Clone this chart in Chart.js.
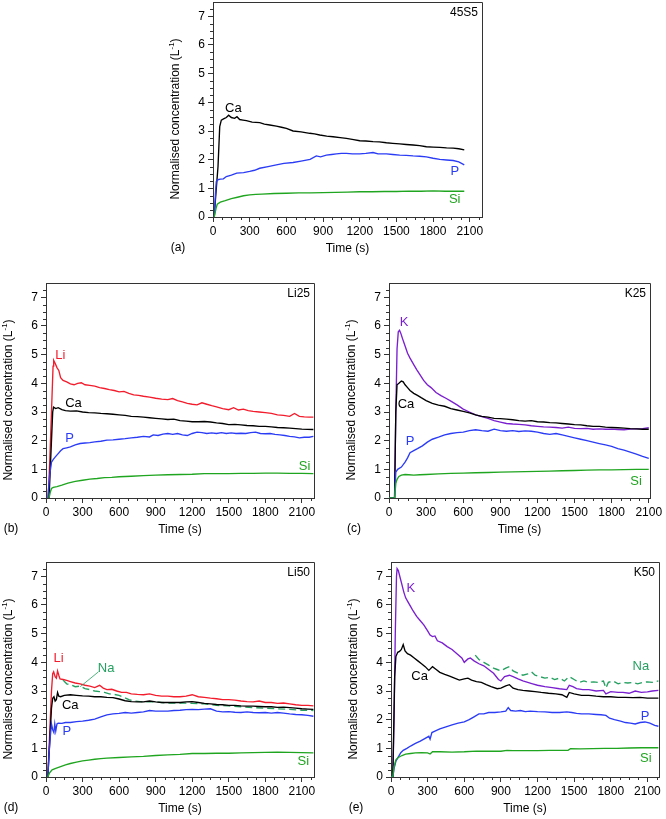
<!DOCTYPE html>
<html><head><meta charset="utf-8">
<script src="https://cdn.jsdelivr.net/npm/chart.js@4.4.1/dist/chart.umd.min.js"></script>
<style>
html,body{margin:0;padding:0;background:#fff;}
body{position:relative;width:666px;height:819px;overflow:hidden;}
canvas{position:absolute;}
</style>
</head><body>
<script>
// ---------- tick labels ----------
const timeTicks = [0,300,600,900,1200,1500,1800,2100];
const concTicks = [0,1,2,3,4,5,6,7];

// ---------- (a) 45S5 : [time (s), normalised concentration] ----------
const a_Ca = [[10,0],[20,0.6],[41,1.76],[55,3.15],[68,3.38],[90,3.43],[109,3.47],[128,3.55],[150,3.47],[177,3.44],[196,3.5],[218,3.4],[245,3.38],[273,3.36],[320,3.31],[382,3.29],[420,3.24],[464,3.21],[518,3.17],[560,3.13],[600,3.09],[655,3.0],[720,2.97],[791,2.92],[830,2.9],[873,2.86],[930,2.82],[982,2.8],[1040,2.77],[1091,2.74],[1150,2.7],[1200,2.66],[1250,2.65],[1309,2.63],[1360,2.62],[1418,2.59],[1470,2.57],[1527,2.55],[1580,2.53],[1636,2.51],[1690,2.49],[1745,2.45],[1800,2.44],[1855,2.43],[1910,2.41],[1964,2.4],[2010,2.38],[2055,2.34]];
const a_P = [[10,0],[20,0.8],[27,1.24],[40,1.3],[60,1.32],[85,1.33],[109,1.41],[150,1.46],[194,1.53],[250,1.55],[300,1.59],[340,1.63],[382,1.7],[450,1.76],[518,1.82],[580,1.87],[655,1.9],[720,1.95],[794,2.01],[845,2.13],[880,2.1],[927,2.16],[970,2.18],[1009,2.2],[1050,2.22],[1091,2.22],[1140,2.2],[1200,2.2],[1250,2.22],[1309,2.25],[1350,2.2],[1418,2.2],[1470,2.18],[1527,2.16],[1580,2.15],[1636,2.13],[1690,2.12],[1745,2.1],[1800,2.05],[1855,2.01],[1910,1.99],[1964,1.97],[2010,1.92],[2055,1.82]];
const a_Si = [[10,0],[25,0.3],[35,0.45],[60,0.52],[100,0.57],[150,0.64],[200,0.69],[250,0.74],[300,0.77],[350,0.79],[400,0.8],[500,0.82],[600,0.83],[700,0.84],[800,0.84],[900,0.85],[1000,0.86],[1100,0.87],[1200,0.88],[1300,0.88],[1400,0.89],[1500,0.89],[1600,0.9],[1700,0.9],[1800,0.91],[1900,0.9],[2000,0.9],[2055,0.9]];

// ---------- (b) Li25 ----------
const b_Li = [[18,0],[30,1.2],[45,3.0],[58,4.6],[63,4.8],[75,4.7],[90,4.55],[105,4.45],[120,4.2],[140,4.1],[170,4.05],[200,3.98],[230,3.95],[260,4.0],[290,4.02],[320,3.95],[360,3.93],[400,3.9],[440,3.85],[480,3.82],[520,3.78],[560,3.75],[600,3.7],[640,3.72],[680,3.65],[720,3.6],[760,3.58],[800,3.55],[850,3.52],[900,3.48],[950,3.45],[1000,3.43],[1040,3.47],[1080,3.4],[1120,3.35],[1160,3.3],[1200,3.27],[1240,3.25],[1280,3.32],[1320,3.27],[1360,3.22],[1400,3.18],[1450,3.12],[1500,3.08],[1540,3.15],[1580,3.07],[1620,3.1],[1660,3.05],[1700,3.02],[1750,3.0],[1800,2.98],[1850,2.95],[1900,2.9],[1950,2.88],[2000,2.85],[2040,2.95],[2080,2.85],[2120,2.83],[2160,2.82],[2195,2.82]];
const b_Ca = [[25,0],[40,1.5],[55,3.0],[62,3.17],[80,3.12],[100,3.15],[130,3.08],[160,3.05],[200,3.03],[250,3.04],[300,3.0],[350,2.98],[400,2.97],[450,2.95],[500,2.94],[550,2.92],[600,2.9],[650,2.88],[700,2.85],[750,2.84],[800,2.82],[850,2.8],[900,2.78],[950,2.76],[1000,2.74],[1050,2.75],[1100,2.7],[1150,2.68],[1200,2.66],[1250,2.66],[1300,2.67],[1350,2.65],[1400,2.62],[1450,2.6],[1500,2.56],[1550,2.57],[1600,2.55],[1650,2.53],[1700,2.52],[1750,2.5],[1800,2.5],[1850,2.48],[1900,2.46],[1950,2.45],[2000,2.44],[2050,2.42],[2100,2.4],[2195,2.39]];
const b_P = [[15,0],[30,0.8],[45,1.25],[60,1.35],[80,1.45],[100,1.55],[120,1.65],[140,1.72],[170,1.75],[200,1.78],[240,1.85],[280,1.9],[320,1.92],[360,1.93],[400,1.96],[450,1.98],[500,2.02],[550,2.03],[600,2.05],[650,2.07],[700,2.1],[750,2.12],[800,2.15],[850,2.13],[880,2.2],[920,2.18],[960,2.23],[1000,2.25],[1040,2.22],[1080,2.25],[1120,2.2],[1160,2.18],[1200,2.25],[1240,2.3],[1280,2.28],[1320,2.25],[1360,2.27],[1400,2.25],[1440,2.28],[1480,2.25],[1520,2.27],[1560,2.25],[1600,2.26],[1640,2.25],[1680,2.28],[1720,2.3],[1760,2.25],[1800,2.24],[1840,2.25],[1880,2.22],[1920,2.2],[1960,2.18],[2000,2.15],[2040,2.13],[2080,2.1],[2120,2.12],[2160,2.12],[2195,2.15]];
const b_Si = [[25,0],[35,0.2],[45,0.33],[60,0.37],[90,0.4],[130,0.45],[180,0.52],[240,0.58],[300,0.62],[360,0.66],[420,0.68],[480,0.71],[540,0.72],[600,0.74],[700,0.76],[800,0.78],[900,0.8],[1000,0.81],[1100,0.82],[1200,0.83],[1300,0.85],[1400,0.85],[1500,0.85],[1600,0.86],[1700,0.86],[1800,0.87],[1900,0.87],[2000,0.86],[2100,0.86],[2195,0.85]];

// ---------- (c) K25 ----------
const c_K = [[0,0],[45,0],[55,3.0],[65,5.2],[75,5.8],[85,5.85],[95,5.75],[110,5.55],[130,5.3],[150,5.05],[170,4.88],[200,4.65],[225,4.47],[250,4.3],[280,4.1],[310,3.95],[340,3.85],[380,3.68],[420,3.57],[460,3.48],[500,3.38],[550,3.25],[600,3.1],[650,3.0],[700,2.9],[750,2.84],[800,2.78],[850,2.7],[900,2.65],[950,2.6],[1000,2.58],[1050,2.57],[1100,2.55],[1150,2.52],[1200,2.5],[1250,2.48],[1300,2.47],[1350,2.46],[1400,2.44],[1450,2.47],[1500,2.43],[1550,2.42],[1600,2.43],[1650,2.4],[1700,2.41],[1750,2.4],[1800,2.4],[1850,2.39],[1900,2.38],[1950,2.4],[2000,2.41],[2050,2.42],[2100,2.45]];
const c_Ca = [[0,0],[45,0],[55,3.0],[65,3.95],[80,4.0],[100,4.08],[115,4.05],[130,3.95],[150,3.85],[170,3.75],[200,3.65],[230,3.58],[260,3.5],[300,3.4],[350,3.3],[400,3.24],[450,3.2],[500,3.12],[550,3.07],[600,3.02],[650,2.97],[700,2.9],[750,2.85],[800,2.82],[850,2.78],[900,2.77],[950,2.75],[1000,2.73],[1050,2.7],[1100,2.68],[1150,2.7],[1200,2.66],[1250,2.65],[1300,2.63],[1350,2.62],[1400,2.6],[1450,2.58],[1500,2.56],[1550,2.55],[1600,2.52],[1650,2.5],[1700,2.5],[1750,2.47],[1800,2.46],[1850,2.45],[1900,2.44],[1950,2.42],[2000,2.41],[2050,2.4],[2100,2.4]];
const c_P = [[0,0],[45,0],[55,0.9],[70,1.0],[100,1.08],[130,1.25],[150,1.4],[170,1.58],[200,1.65],[230,1.72],[270,1.82],[310,1.95],[350,2.05],[400,2.12],[450,2.2],[500,2.25],[550,2.28],[600,2.3],[650,2.35],[700,2.38],[750,2.35],[800,2.33],[850,2.4],[900,2.35],[950,2.33],[1000,2.35],[1050,2.32],[1100,2.34],[1150,2.33],[1200,2.3],[1250,2.25],[1300,2.22],[1350,2.25],[1400,2.2],[1450,2.15],[1500,2.1],[1550,2.05],[1600,2.0],[1650,1.95],[1700,1.9],[1750,1.85],[1800,1.8],[1850,1.72],[1900,1.67],[1950,1.6],[2000,1.53],[2050,1.45],[2100,1.38]];
const c_Si = [[0,0],[45,0],[55,0.5],[65,0.65],[80,0.75],[100,0.8],[130,0.82],[160,0.81],[200,0.8],[250,0.81],[300,0.82],[400,0.84],[500,0.86],[600,0.87],[700,0.88],[800,0.89],[900,0.9],[1000,0.91],[1100,0.92],[1200,0.93],[1300,0.94],[1400,0.95],[1500,0.96],[1600,0.97],[1700,0.98],[1800,0.98],[1900,0.99],[2000,1.0],[2100,1.0]];

// ---------- (d) Li50 ----------
const d_Li = [[15,0],[30,1.5],[45,3.0],[55,3.6],[63,3.67],[75,3.5],[85,3.45],[95,3.7],[105,3.55],[115,3.42],[140,3.4],[170,3.37],[200,3.33],[240,3.28],[280,3.25],[320,3.2],[360,3.17],[400,3.12],[440,3.2],[470,3.1],[500,3.05],[540,3.06],[580,3.0],[620,2.95],[660,2.95],[700,2.9],[750,2.88],[800,2.87],[850,2.9],[900,2.85],[950,2.82],[1000,2.82],[1050,2.8],[1100,2.8],[1150,2.82],[1200,2.87],[1250,2.8],[1300,2.78],[1350,2.75],[1400,2.73],[1450,2.7],[1500,2.7],[1550,2.68],[1600,2.65],[1650,2.63],[1700,2.62],[1750,2.65],[1800,2.6],[1850,2.6],[1900,2.57],[1950,2.58],[2000,2.55],[2050,2.52],[2100,2.5],[2150,2.5],[2195,2.48]];
const d_Na = [[140,3.38],[170,3.25],[200,3.22],[240,3.15],[280,3.17],[320,3.08],[360,3.05],[400,3.0],[440,2.98],[480,2.95],[520,2.9],[560,2.88],[600,2.85],[640,2.78],[680,2.7],[720,2.65],[800,2.62],[900,2.62],[1000,2.58],[1100,2.58],[1200,2.57],[1300,2.55],[1400,2.5],[1500,2.48],[1600,2.45],[1700,2.42],[1800,2.4],[1900,2.38],[2000,2.36],[2100,2.33],[2195,2.32]];
const d_Ca = [[15,0],[30,1.2],[45,2.4],[55,2.75],[65,2.8],[75,2.65],[85,2.7],[95,2.95],[105,2.82],[120,2.8],[150,2.85],[200,2.87],[250,2.85],[300,2.83],[350,2.82],[400,2.8],[450,2.8],[500,2.78],[550,2.77],[600,2.72],[650,2.66],[700,2.63],[750,2.62],[800,2.62],[850,2.65],[900,2.62],[950,2.6],[1000,2.6],[1050,2.6],[1100,2.6],[1150,2.62],[1200,2.63],[1250,2.6],[1300,2.57],[1350,2.55],[1400,2.53],[1450,2.52],[1500,2.5],[1550,2.5],[1600,2.48],[1650,2.47],[1700,2.47],[1750,2.46],[1800,2.45],[1850,2.45],[1900,2.43],[1950,2.44],[2000,2.42],[2050,2.4],[2100,2.38],[2150,2.37],[2195,2.36]];
const d_P = [[15,0],[25,0.8],[35,1.4],[45,1.85],[55,1.65],[65,1.55],[72,1.85],[80,1.6],[90,1.85],[100,1.88],[130,1.87],[160,1.9],[200,1.9],[250,1.93],[300,1.95],[350,1.98],[400,2.02],[450,2.1],[500,2.17],[550,2.2],[600,2.22],[650,2.25],[700,2.23],[750,2.25],[800,2.27],[850,2.32],[900,2.3],[950,2.3],[1000,2.3],[1050,2.32],[1100,2.33],[1150,2.35],[1200,2.36],[1250,2.35],[1300,2.37],[1350,2.38],[1400,2.3],[1450,2.27],[1500,2.28],[1550,2.26],[1600,2.25],[1650,2.27],[1700,2.25],[1750,2.24],[1800,2.25],[1850,2.23],[1900,2.25],[1950,2.23],[2000,2.2],[2050,2.18],[2100,2.17],[2150,2.15],[2195,2.12]];
const d_Si = [[15,0],[30,0.15],[50,0.25],[80,0.3],[120,0.36],[160,0.42],[200,0.47],[250,0.52],[300,0.56],[350,0.59],[400,0.62],[450,0.64],[500,0.66],[600,0.68],[700,0.7],[800,0.72],[900,0.75],[1000,0.77],[1100,0.79],[1200,0.82],[1300,0.82],[1400,0.83],[1500,0.83],[1600,0.84],[1700,0.85],[1800,0.86],[1900,0.87],[2000,0.86],[2100,0.85],[2195,0.84]];

// ---------- (e) K50 ----------
const e_K = [[0,0],[15,0],[25,2.0],[35,5.0],[45,7.0],[50,7.27],[60,7.2],[75,6.95],[90,6.7],[105,6.45],[120,6.25],[140,6.1],[160,5.95],[180,5.8],[210,5.6],[240,5.45],[270,5.3],[300,5.1],[320,4.95],[340,4.9],[360,4.92],[380,4.75],[420,4.68],[460,4.55],[500,4.45],[540,4.3],[580,4.15],[600,4.0],[630,4.12],[650,4.15],[680,4.05],[720,3.95],[760,3.88],[800,3.75],[840,3.62],[880,3.4],[900,3.35],[930,3.5],[970,3.55],[1000,3.5],[1040,3.42],[1080,3.35],[1120,3.3],[1160,3.25],[1200,3.2],[1260,3.15],[1320,3.12],[1380,3.08],[1440,3.05],[1460,3.2],[1490,3.15],[1520,3.08],[1570,3.05],[1620,3.05],[1680,3.0],[1740,3.02],[1760,2.9],[1800,2.98],[1860,2.95],[1900,2.95],[1950,2.92],[2000,3.0],[2050,2.95],[2100,2.97],[2140,3.0],[2190,3.02]];
const e_Ca = [[0,0],[15,0],[30,3.5],[40,4.2],[55,4.35],[70,4.38],[85,4.45],[100,4.62],[115,4.4],[135,4.3],[160,4.25],[190,4.15],[220,4.05],[250,3.95],[280,3.85],[310,3.72],[340,3.85],[370,3.75],[400,3.65],[440,3.58],[480,3.52],[520,3.45],[560,3.38],[600,3.42],[630,3.45],[660,3.38],[700,3.33],[740,3.3],[780,3.22],[820,3.15],[870,3.08],[900,3.1],[940,3.18],[970,3.22],[1000,3.1],[1040,3.05],[1080,3.02],[1130,3.0],[1180,2.98],[1230,2.95],[1290,2.92],[1350,2.9],[1400,2.87],[1440,2.78],[1460,2.95],[1500,2.9],[1560,2.85],[1620,2.85],[1680,2.82],[1740,2.8],[1800,2.8],[1860,2.78],[1920,2.78],[1980,2.77],[2040,2.78],[2100,2.75],[2190,2.75]];
const e_Na = [[690,4.25],[720,4.1],[760,4.0],[800,3.9],[840,3.8],[870,3.75],[900,3.7],[940,3.8],[970,3.85],[1000,3.7],[1040,3.62],[1080,3.55],[1120,3.6],[1150,3.67],[1180,3.55],[1220,3.5],[1260,3.45],[1300,3.48],[1340,3.4],[1380,3.45],[1420,3.35],[1460,3.5],[1500,3.4],[1540,3.3],[1580,3.35],[1620,3.3],[1660,3.32],[1700,3.3],[1740,3.35],[1760,3.1],[1780,3.3],[1820,3.35],[1860,3.25],[1900,3.3],[1940,3.28],[1980,3.3],[2020,3.25],[2060,3.3],[2100,3.32],[2140,3.3],[2190,3.35]];
const e_P = [[0,0],[15,0],[25,0.3],[40,0.55],[60,0.7],[80,0.85],[100,0.93],[130,1.0],[160,1.08],[200,1.17],[240,1.25],[280,1.35],[310,1.42],[320,1.32],[335,1.55],[360,1.6],[400,1.68],[450,1.75],[500,1.82],[550,1.88],[600,1.92],[640,2.0],[680,2.1],[720,2.2],[760,2.2],[800,2.25],[850,2.25],[900,2.27],[940,2.3],[960,2.42],[980,2.32],[1020,2.3],[1060,2.32],[1100,2.28],[1140,2.3],[1200,2.28],[1260,2.27],[1320,2.25],[1380,2.25],[1440,2.27],[1480,2.25],[1520,2.22],[1560,2.2],[1620,2.2],[1680,2.18],[1720,2.17],[1760,2.15],[1790,2.05],[1830,2.0],[1880,1.95],[1920,1.9],[1960,1.88],[2000,1.85],[2040,1.9],[2080,1.92],[2120,1.88],[2160,1.8],[2190,1.77]];
const e_Si = [[0,0],[15,0],[25,0.35],[40,0.6],[60,0.68],[90,0.75],[120,0.8],[160,0.82],[200,0.84],[250,0.85],[300,0.84],[320,0.8],[340,0.88],[400,0.88],[500,0.87],[600,0.88],[700,0.9],[800,0.9],[900,0.9],[950,0.93],[1000,0.92],[1100,0.92],[1200,0.92],[1300,0.93],[1400,0.93],[1450,0.93],[1470,0.99],[1550,0.98],[1650,0.99],[1750,1.0],[1850,1.0],[1950,1.01],[2050,1.02],[2100,1.02],[2190,1.02]];

// ---------- styles ----------
const COLORS = {Ca:'#000000', P:'#2b3cf5', Si:'#1fa51f', Li:'#f21c2c', K:'#7a1fd0', Na:'#25a061'};
const FONT = "'Liberation Sans', Arial, Helvetica, sans-serif";

// panel layout: plot box [left, top, right, bottom] in page pixels
const panels = [
  {letter:'(a)', name:'45S5', box:[213,2,482,217], xmax:2200,
   series:[['Si',a_Si],['P',a_P],['Ca',a_Ca]],
   labels:[['Ca',166,3.8],['P',1977,1.58],['Si',1977,0.6]]},
  {letter:'(b)', name:'Li25', box:[46,283,314,498], xmax:2200,
   series:[['Si',b_Si],['P',b_P],['Ca',b_Ca],['Li',b_Li]],
   labels:[['Li',117,4.96],['Ca',226,3.31],['P',194,2.07],['Si',2122,1.1]]},
  {letter:'(c)', name:'K25', box:[389,283,650,498], xmax:2110,
   series:[['Si',c_Si],['P',c_P],['Ca',c_Ca],['K',c_K]],
   labels:[['K',121,6.12],['Ca',137,3.25],['P',170,1.97],['Si',1997,0.58]]},
  {letter:'(d)', name:'Li50', box:[46,562,314,777], xmax:2200,
   series:[['Si',d_Si],['P',d_P],['Ca',d_Ca],['Na',d_Na],['Li',d_Li]],
   labels:[['Li',104,4.14],['Na',494,3.79],['Ca',199,2.51],['P',172,1.59],['Si',2113,0.54]],
   leader:[431,3.67,281,3.15]},
  {letter:'(e)', name:'K50', box:[391,562,659,777], xmax:2195,
   series:[['Si',e_Si],['P',e_P],['Ca',e_Ca],['Na',e_Na],['K',e_K]],
   labels:[['K',163,6.59],['Ca',234,3.5],['Na',2046,3.85],['P',2081,2.11],['Si',2087,0.66]]}
];

const decor = {
  id:'decor',
  afterDraw(chart, args, opts){
    const p = opts.panel; if(!p) return;
    const {ctx, chartArea:a, scales:{x,y}} = chart;
    ctx.save();
    ctx.strokeStyle='#333'; ctx.lineWidth=1;
    ctx.beginPath();
    ctx.moveTo(a.left, a.top+0.5); ctx.lineTo(a.right+0.5, a.top+0.5); ctx.lineTo(a.right+0.5, a.bottom);
    ctx.stroke();
    ctx.beginPath();
    for(let t=75; t<p.xmax; t+=75){ if(t%300===0) continue; const px=Math.round(x.getPixelForValue(t))+0.5; ctx.moveTo(px,a.bottom); ctx.lineTo(px,a.bottom+3); }
    for(let v=0.25; v<7.5; v+=0.25){ if(Math.abs(v-Math.round(v))<1e-6) continue; const py=Math.round(y.getPixelForValue(v))+0.5; ctx.moveTo(a.left,py); ctx.lineTo(a.left-3,py); }
    ctx.stroke();
    if(p.leader){
      ctx.strokeStyle=COLORS.Na; ctx.lineWidth=0.8; ctx.beginPath();
      ctx.moveTo(x.getPixelForValue(p.leader[0]), y.getPixelForValue(p.leader[1]));
      ctx.lineTo(x.getPixelForValue(p.leader[2]), y.getPixelForValue(p.leader[3]));
      ctx.stroke();
    }
    ctx.font='13px '+FONT; ctx.textAlign='center'; ctx.textBaseline='middle';
    p.labels.forEach(([s,t,v])=>{ ctx.fillStyle=COLORS[s]; ctx.fillText(s, x.getPixelForValue(t), y.getPixelForValue(v)); });
    ctx.fillStyle='#000'; ctx.font='12px '+FONT; ctx.textAlign='right';
    ctx.fillText(p.name, a.right-4, a.top+11);
    ctx.textAlign='center';
    ctx.fillText('Time (s)', (a.left+a.right)/2, a.bottom+32);
    ctx.fillText(p.letter, a.left-35, a.bottom+31);
    ctx.translate(a.left-37, a.bottom-98); ctx.rotate(-Math.PI/2);
    const t1='Normalised concentration (L', t2='-1', t3=')';
    ctx.font='12px '+FONT; const w1=ctx.measureText(t1).width, w3=ctx.measureText(t3).width;
    ctx.font='8px '+FONT; const w2=ctx.measureText(t2).width;
    let sx=-(w1+w2+w3)/2;
    ctx.textAlign='left'; ctx.textBaseline='middle';
    ctx.font='12px '+FONT; ctx.fillText(t1, sx, 0); sx+=w1;
    ctx.font='8px '+FONT; ctx.fillText(t2, sx, -4); sx+=w2;
    ctx.font='12px '+FONT; ctx.fillText(t3, sx, 0);
    ctx.restore();
  }
};
Chart.register(decor);
Chart.defaults.font.family = FONT;
Chart.defaults.font.size = 12;
Chart.defaults.color = '#000';

panels.forEach(p=>{
  const [L,T,R,B] = p.box;
  const cx=L-53, cy=T-14, cw=R-cx+18, ch=B-cy+45;
  const cv=document.createElement('canvas');
  cv.width=cw; cv.height=ch;
  cv.style.left=cx+'px'; cv.style.top=cy+'px'; cv.style.width=cw+'px'; cv.style.height=ch+'px';
  document.body.appendChild(cv);
  new Chart(cv.getContext('2d'), {
    type:'line',
    data:{datasets:p.series.map(([s,arr])=>({
      label:s, data:arr.map(([t,v])=>({x:t,y:v})),
      borderColor:COLORS[s], borderWidth:1.35, pointRadius:0, fill:false, tension:0,
      borderDash: s==='Na' ? [7,4] : []
    }))},
    options:{
      responsive:false, animation:false, devicePixelRatio:1, events:[],
      layout:{padding:{top:T-cy, right:cx+cw-R, left:0, bottom:0}},
      plugins:{legend:{display:false}, tooltip:{enabled:false}, decor:{panel:p}},
      scales:{
        x:{type:'linear', min:0, max:p.xmax,
           afterBuildTicks:s=>{ s.ticks=timeTicks.map(v=>({value:v})); },
           afterFit:s=>{ s.height=cy+ch-B; },
           ticks:{color:'#000', padding:2, maxRotation:0, autoSkip:false, callback:v=>String(v), font:{size:12}},
           grid:{drawOnChartArea:false, drawTicks:true, tickLength:5, tickColor:'#333'},
           border:{display:true, color:'#333', width:1}},
        y:{type:'linear', min:0, max:7.5,
           afterBuildTicks:s=>{ s.ticks=concTicks.map(v=>({value:v})); },
           afterFit:s=>{ s.width=L-cx; },
           ticks:{color:'#000', padding:3, autoSkip:false, callback:v=>String(v), font:{size:12}},
           grid:{drawOnChartArea:false, drawTicks:true, tickLength:5, tickColor:'#333'},
           border:{display:true, color:'#333', width:1}}
      }
    }
  });
});
</script>
</body></html>
